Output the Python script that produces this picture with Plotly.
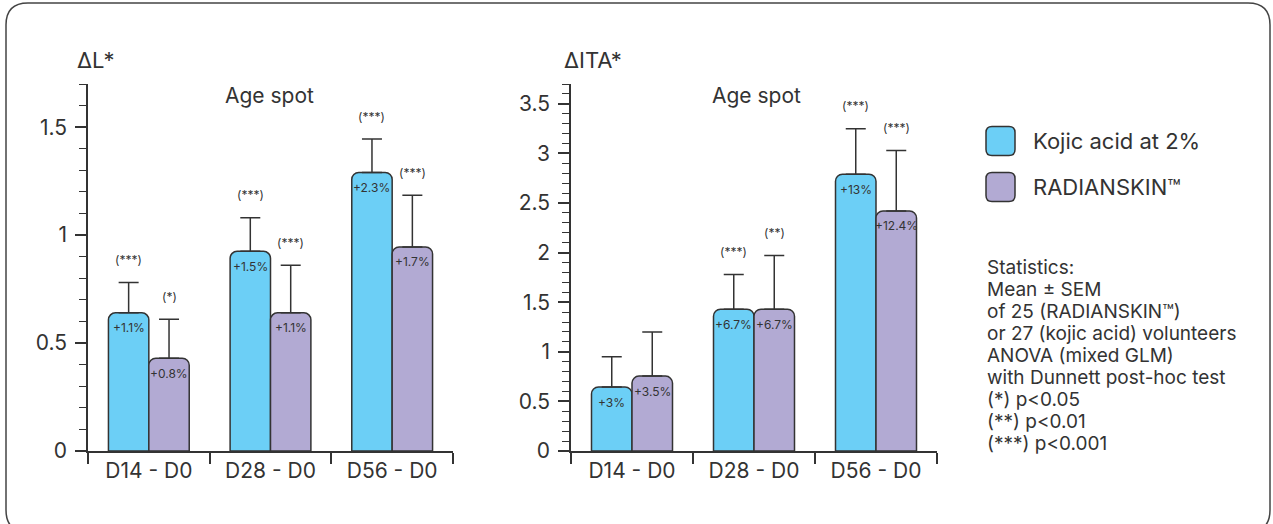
import plotly.graph_objects as go

W, H = 1273, 524

categories = ["D14 - D0", "D28 - D0", "D56 - D0"]
series_names = ["Kojic acid at 2%", "RADIANSKIN\u2122"]
series_colors = ["#6ccff6", "#b2aad3"]

# Delta L*
L_kojic = [0.64, 0.925, 1.29]
L_kojic_sem = [0.14, 0.155, 0.155]
L_radian = [0.43, 0.64, 0.945]
L_radian_sem = [0.18, 0.22, 0.24]
L_kojic_pct = ["+1.1%", "+1.5%", "+2.3%"]
L_radian_pct = ["+0.8%", "+1.1%", "+1.7%"]
L_kojic_sig = ["(***)", "(***)", "(***)"]
L_radian_sig = ["(*)", "(***)", "(***)"]

# Delta ITA*
ITA_kojic = [0.645, 1.43, 2.79]
ITA_kojic_sem = [0.305, 0.35, 0.46]
ITA_radian = [0.755, 1.43, 2.42]
ITA_radian_sem = [0.445, 0.54, 0.61]
ITA_kojic_pct = ["+3%", "+6.7%", "+13%"]
ITA_radian_pct = ["+3.5%", "+6.7%", "+12.4%"]
ITA_kojic_sig = ["", "(***)", "(***)"]
ITA_radian_sig = ["", "(**)", "(***)"]

stats_lines = [
    "Statistics:",
    "Mean \u00b1 SEM",
    "of 25 (RADIANSKIN\u2122)",
    "or 27 (kojic acid) volunteers",
    "ANOVA (mixed GLM)",
    "with Dunnett post-hoc test",
    "(*) p<0.05",
    "(**) p<0.01",
    "(***) p<0.001",
]

FONT = "Inter"
DARK = "#333333"


def px(x):
    return x / W


def py(y):
    return 1 - y / H


def rrect(x0, y0, x1, y1, r):
    pts = [
        f"M{px(x0 + r)},{py(y0)}",
        f"L{px(x1 - r)},{py(y0)}",
        f"Q{px(x1)},{py(y0)} {px(x1)},{py(y0 + r)}",
        f"L{px(x1)},{py(y1 - r)}",
        f"Q{px(x1)},{py(y1)} {px(x1 - r)},{py(y1)}",
        f"L{px(x0 + r)},{py(y1)}",
        f"Q{px(x0)},{py(y1)} {px(x0)},{py(y1 - r)}",
        f"L{px(x0)},{py(y0 + r)}",
        f"Q{px(x0)},{py(y0)} {px(x0 + r)},{py(y0)}",
        "Z",
    ]
    return " ".join(pts)


fig = go.Figure()

panels = [
    ("x", "y", [L_kojic, L_radian], [L_kojic_sem, L_radian_sem],
     [L_kojic_pct, L_radian_pct], [L_kojic_sig, L_radian_sig]),
    ("x2", "y2", [ITA_kojic, ITA_radian], [ITA_kojic_sem, ITA_radian_sem],
     [ITA_kojic_pct, ITA_radian_pct], [ITA_kojic_sig, ITA_radian_sig]),
]

annotations = []
BAR_W = 40.5
for xa, ya, vals, sems, pcts, sigs in panels:
    for i in range(2):
        fig.add_trace(go.Bar(
            x=categories, y=vals[i], xaxis=xa, yaxis=ya,
            name=series_names[i], showlegend=False,
            marker=dict(color=series_colors[i], line=dict(color=DARK, width=1.5),
                        cornerradius=7),
            error_y=dict(type="data", array=sems[i], arrayminus=[0] * len(sems[i]),
                         symmetric=False, color=DARK, thickness=1.5, width=10),
        ))
        shift = (-0.5 if i == 0 else 0.5) * BAR_W
        for c, v, s, p, g in zip(categories, vals[i], sems[i], pcts[i], sigs[i]):
            annotations.append(dict(
                x=c, y=v, xref=xa, yref=ya, text=p, showarrow=False,
                xshift=shift, yshift=-15, yanchor="middle",
                font=dict(family=FONT, size=12, color=DARK)))
            if g:
                annotations.append(dict(
                    x=c, y=v + s, xref=xa, yref=ya, text=g, showarrow=False,
                    xshift=shift, yshift=23, yanchor="middle",
                    font=dict(family=FONT, size=12, color=DARK)))

# axis titles & panel titles
annotations += [
    dict(x=px(75), y=py(60), xref="paper", yref="paper", text="\u0394L*",
         showarrow=False, xanchor="left", yanchor="middle",
         font=dict(family=FONT, size=22, color=DARK)),
    dict(x=px(562), y=py(60), xref="paper", yref="paper", text="\u0394ITA*",
         showarrow=False, xanchor="left", yanchor="middle",
         font=dict(family=FONT, size=22, color=DARK)),
    dict(x=px(269), y=py(95), xref="paper", yref="paper", text="Age spot",
         showarrow=False, xanchor="center", yanchor="middle",
         font=dict(family=FONT, size=21, color=DARK)),
    dict(x=px(756), y=py(95), xref="paper", yref="paper", text="Age spot",
         showarrow=False, xanchor="center", yanchor="middle",
         font=dict(family=FONT, size=21, color=DARK)),
]

# legend
shapes = []
leg_y = [141, 187]
for name, col, yc in zip(series_names, series_colors, leg_y):
    shapes.append(dict(type="path", xref="paper", yref="paper",
                       path=rrect(986, yc - 14.5, 1015, yc + 14.5, 6),
                       fillcolor=col, line=dict(color=DARK, width=1.5)))
    annotations.append(dict(x=px(1031), y=py(yc), xref="paper", yref="paper",
                            text=name, showarrow=False, xanchor="left",
                            yanchor="middle",
                            font=dict(family=FONT, size=22, color=DARK)))

for k, line in enumerate(stats_lines):
    annotations.append(dict(x=px(985), y=py(267 + 22 * k), xref="paper", yref="paper",
                            text=line, showarrow=False, xanchor="left",
                            yanchor="middle",
                            font=dict(family=FONT, size=19, color=DARK)))

# outer border
shapes.append(dict(type="path", xref="paper", yref="paper",
                   path=rrect(6, 3, 1270, 532, 22),
                   line=dict(color="#444444", width=1.5)))

y_dom = [py(451), py(84)]
common_x = dict(showline=True, linecolor=DARK, linewidth=1.5, ticks="outside",
                tickson="boundaries", ticklen=11, tickwidth=1.5, tickcolor=DARK,
                tickfont=dict(family=FONT, size=21, color=DARK), showgrid=False,
                zeroline=False, fixedrange=True, automargin=False)
common_y = dict(showline=True, linecolor=DARK, linewidth=1.5, ticks="outside",
                ticklen=11, tickwidth=1.5, tickcolor=DARK, dtick=0.5, tick0=0,
                tickfont=dict(family=FONT, size=21, color=DARK), showgrid=False,
                zeroline=False, ticklabelstandoff=4, automargin=False,
                minor=dict(dtick=0.1, tick0=0, ticks="outside", ticklen=7,
                           tickwidth=1.2, tickcolor=DARK, showgrid=False))

fig.update_layout(
    template="none",
    width=W, height=H, autosize=False,
    margin=dict(l=0, r=0, t=0, b=0, pad=0, autoexpand=False),
    paper_bgcolor="white", plot_bgcolor="white",
    barmode="group", bargap=0.336, bargroupgap=0,
    xaxis=dict(domain=[px(88), px(453)], anchor="y", **common_x),
    yaxis=dict(domain=y_dom, anchor="x", range=[0, 1.7], **common_y),
    xaxis2=dict(domain=[px(571), px(937)], anchor="y2", **common_x),
    yaxis2=dict(domain=y_dom, anchor="x2", range=[0, 3.7], **common_y),
    annotations=annotations,
    shapes=shapes,
    showlegend=False,
)

fig.write_html("out.html",
               config={"responsive": False, "displayModeBar": False},
               post_script="document.body.style.margin='0';document.body.style.overflow='hidden';")
